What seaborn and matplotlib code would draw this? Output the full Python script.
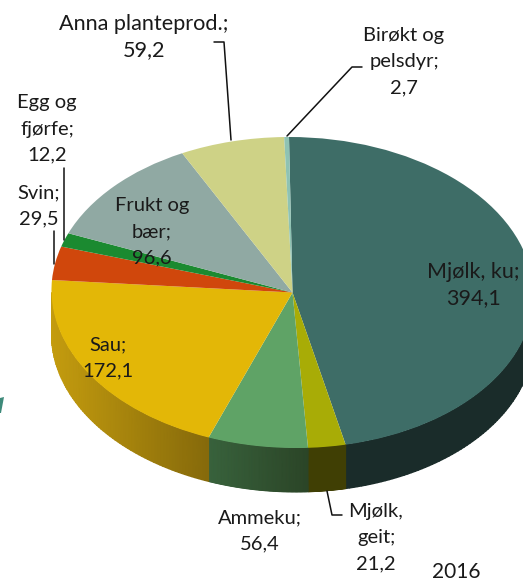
#!/usr/bin/python3
import numpy as np
import seaborn as sns
import matplotlib
matplotlib.use('Agg')
import matplotlib.pyplot as plt
from matplotlib.colors import LinearSegmentedColormap
from matplotlib.patches import Polygon
from matplotlib.transforms import Affine2D

# verdier 2016
labels = ['Mjølk, ku', 'Mjølk, geit', 'Ammeku', 'Sau', 'Svin', 'Egg og fjørfe',
          'Frukt og bær', 'Anna planteprod.', 'Birøkt og pelsdyr']
values = [394.1, 21.2, 56.4, 172.1, 29.5, 12.2, 96.6, 59.2, 2.7]
top_colors = ['#3e6d67', '#a8ac06', '#5fa366', '#e3b707', '#d0470c', '#1b8a30',
              '#90a9a3', '#ced286', '#8fc3b3']
side_left = ['#1a2c2a', '#403f04', '#38623c', '#c49c0e', '#8a3008', '#125c20',
             '#607470', '#8a8d5a', '#608478']
side_right = ['#1a2c2a', '#403f04', '#2b4527', '#866a0b', '#8a3008', '#125c20',
              '#607470', '#8a8d5a', '#608478']

W, H = 523, 584
CX, CY = 292.5, 292.5
RX, RY = 241, 155.5
DEPTH = 44 / RY
SKEW = -0.0145  # perspektivet i originalen er litt skeivt

sns.set_theme(style='white')
plt.rcParams['font.family'] = ['Lato', 'DejaVu Sans']

fig = plt.figure(figsize=(W / 100, H / 100), dpi=100, facecolor='white')
ax = fig.add_axes([0, 0, 1, 1])


def px(x, y):
    return (x - CX) / RX, (CY - y) / RY


# sidevegg, berre nedre halvdel synest
edges = np.cumsum([0] + values) / sum(values) * 360
for i in range(len(values)):
    a = max(edges[i], 90)
    b = min(edges[i + 1], 270)
    if b <= a:
        continue
    t = np.radians(np.linspace(a, b, 80))
    y = np.cos(t)
    x = np.sin(t) + SKEW * y
    X = np.vstack([x, x])
    Y = np.vstack([y, y - DEPTH])
    C = (X - x.min()) / (x.max() - x.min())
    cm = LinearSegmentedColormap.from_list('s', [side_left[i], side_right[i]])
    ax.pcolormesh(X, Y, C, shading='gouraud', cmap=cm, vmin=0, vmax=1)

wedges, _ = ax.pie(values, colors=sns.color_palette(top_colors), startangle=90, counterclock=False,
                   radius=1, wedgeprops=dict(linewidth=0))
skew = Affine2D.from_values(1, 0, SKEW, 1, 0, 0)
for w in wedges:
    w.set_transform(skew + ax.transData)

ax.set_aspect('auto')
ax.set_xlim(px(0, 0)[0], px(W, 0)[0])
ax.set_ylim(px(0, H)[1], px(0, 0)[1])
ax.axis('off')

# tekstar
texts = [
    ('Anna planteprod.;\n59,2', 144, 37, 15.6, 1.35),
    ('Birøkt og\npelsdyr;\n2,7', 404, 62, 14.5, 1.66),
    ('Egg og\nfjørfe;\n12,2', 47, 129, 14.5, 1.66),
    ('Svin;\n29,5', 39, 206, 14.5, 1.66),
    ('Frukt og\nbær;\n96,6', 152, 232, 14.5, 1.66),
    ('Mjølk, ku;\n394,1', 473, 285, 15.5, 1.35),
    ('Sau;\n172,1', 108, 358, 14.5, 1.66),
    ('Ammeku;\n56,4', 260, 531, 14.5, 1.66),
    ('Mjølk,\ngeit;\n21,2', 376, 538, 14.5, 1.66),
]
for s, x, y, size, ls in texts:
    tx, ty = px(x, y)
    ax.text(tx, ty, s, ha='center', va='center', fontsize=size, color='#1a1a1a',
            linespacing=ls, zorder=5)
tx, ty = px(456, 572)
ax.text(tx, ty, '2016', ha='center', va='center', fontsize=15, color='#1a1a1a', zorder=5)

# leiarliner
leaders = [
    [(214, 42), (224, 42), (231, 140)],
    [(362, 67), (352, 67), (287, 136)],
    [(64, 168), (64, 240)],
    [(54, 231), (54, 264)],
    [(327, 491), (332, 515), (342, 515)],
]
for pts in leaders:
    xy = [px(*p) for p in pts]
    ax.plot([p[0] for p in xy], [p[1] for p in xy], color='#111111', lw=1.1, zorder=4)

# liten bit av ein logo i venstre kant
ax.add_patch(Polygon([px(0, 398), px(4, 397), px(1, 413), px(0, 413)], closed=True,
                     facecolor='#3e8a7a', edgecolor='none', zorder=3))

fig.savefig('out.png', dpi=100)
